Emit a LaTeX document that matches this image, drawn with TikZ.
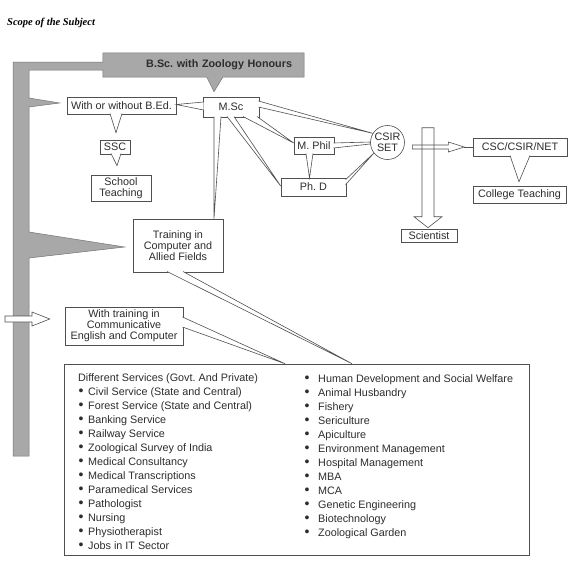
\documentclass[tikz,border=0pt]{standalone}
\usepackage{fontspec}
\setmainfont{Liberation Sans}
\newfontfamily\titlefont{Liberation Serif}
\usetikzlibrary{calc,backgrounds}
\definecolor{bargrey}{RGB}{168,168,168}
\definecolor{ink}{RGB}{45,45,45}
\definecolor{edge}{RGB}{80,80,80}
\newcommand{\bul}{\raisebox{-0.3pt}{\scalebox{1.3}{•}}}
\begin{document}
\frenchspacing
\begin{tikzpicture}[x=1pt,y=-1pt,
  every node/.style={font=\fontsize{10.8}{11}\selectfont\frenchspacing, text=ink},
  box/.style={draw=edge, line width=0.6pt, fill=white, inner sep=0pt, align=center},
  wedge/.style={draw=edge, line width=0.6pt, fill=white, line join=miter},
  hollow/.style={draw=edge, line width=0.6pt, fill=white, line join=miter},
  bar/.style={fill=bargrey, draw=edge!80, line width=0.5pt, line join=miter},
  item/.style={anchor=base west, inner sep=0pt}]
\useasboundingbox (0,0) rectangle (579,579);

% title
\node[anchor=west, inner sep=0pt, text=black,
  font={\titlefont\bfseries\itshape\fontsize{10.5}{12}\selectfont}] (title) at (7,23) {Scope of the Subject};

% heading box (grey)
\node[inner sep=0pt, minimum width=201, minimum height=24, text width=177, align=right,
  font={\bfseries\fontsize{10.8}{12}\selectfont\frenchspacing}] (bsc) at (203.5,65) {B.Sc. with Zoology Honours};

% boxes
\node[box, minimum width=109, minimum height=17] (bed) at (121.5,105.5) {With or without B.Ed.};
\node[box, minimum width=56, minimum height=20] (msc) at (231,107) {M.Sc};
\node[box, minimum width=30, minimum height=14] (ssc) at (115,147) {SSC};
\node[box, minimum width=60, minimum height=26] (school) at (121,188) {School\\Teaching};
\node[box, minimum width=40, minimum height=17] (mphil) at (314,145.5) {M. Phil};
\node[box, minimum width=65, minimum height=18] (phd) at (313.5,187) {Ph. D};
\node[box, circle, minimum size=34] (csir) at (387.5,142.5) {CSIR\\SET};
\node[box, minimum width=56, minimum height=13] (sci) at (429,236) {Scientist};
\node[box, minimum width=94, minimum height=18] (csc) at (520,147) {CSC/CSIR/NET};
\node[box, minimum width=93, minimum height=17] (college) at (519.5,194.5) {College Teaching};
\node[box, minimum width=90, minimum height=53] (training) at (178,245.5) {Training in\\Computer and\\Allied Fields};
\node[box, minimum width=118, minimum height=38] (wtr) at (124,326) {With training in\\Communicative\\English and Computer};
\node[box, minimum width=465, minimum height=191] (list) at (296.5,459.5) {};

% list contents
\node[item] (l0) at (78,381) {Different Services (Govt. And Private)};
\foreach \t [count=\i] in {Civil Service (State and Central),Forest Service (State and Central),Banking Service,Railway Service,Zoological Survey of India,Medical Consultancy,Medical Transcriptions,Paramedical Services,Pathologist,Nursing,Physiotherapist,Jobs in IT Sector}
  \node[item] (l\i) at (78.5,{381+14*\i}) {\makebox[9.5pt][l]{\bul}\t};
\foreach \t [count=\i] in {Human Development and Social Welfare,Animal Husbandry,Fishery,Sericulture,Apiculture,Environment Management,Hospital Management,MBA,MCA,Genetic Engineering,Biotechnology,Zoological Garden}
  \node[item] (r\i) at (304.5,{368+14*\i}) {\makebox[13.5pt][l]{\bul}\t};

% callout wedges
\draw[wedge] ($(msc.west)+(0.8,-5)$) -- ($(bed.east)+(0,-1)$) -- ($(msc.west)+(0.8,3)$);
\draw[wedge] ($(msc.east)+(-0.8,-6)$) -- (csir.148) -- ($(msc.east)+(-0.8,0)$);
\draw[wedge] ($(msc.south)+(12,-0.8)$) -- ($(mphil.west)+(0,-2.5)$) -- ($(msc.south)+(26,-0.8)$);
\draw[wedge] ($(msc.south)+(-4,-0.8)$) -- ($(phd.west)+(0,-1)$) -- ($(msc.south)+(3,-0.8)$);
\draw[wedge] ($(msc.south)+(-17,-0.8)$) -- ($(training.north)+(36,0)$) -- ($(msc.south)+(-10,-0.8)$);
\draw[wedge] ($(mphil.east)+(-0.8,-2.5)$) -- ($(csir.west)+(0,-0.5)$) -- ($(csir.west)+(0,1.5)$) -- ($(mphil.east)+(-0.8,2.5)$);
\draw[wedge] ($(phd.north east)+(-0.8,2)$) -- (csir.218) -- ($(phd.north east)+(-0.8,7)$);
\draw[wedge] ($(mphil.south)+(-8,-0.8)$) -- ($(phd.north)+(-4,0.3)$) -- ($(mphil.south)+(-1,-0.8)$);
\draw[wedge] ($(bed.south)+(-11.5,-0.8)$) -- ($(ssc.north)+(1,-7)$) -- ($(bed.south)+(0.5,-0.8)$);
\draw[wedge] ($(ssc.south)+(-4,-0.8)$) -- ($(school.north)+(-4,-9)$) -- ($(ssc.south)+(6,-0.8)$);
\draw[wedge] ($(training.south)+(-11,-0.8)$) -- ($(list.north)+(55.5,0)$) -- ($(training.south)+(5,-0.8)$);
\draw[wedge] ($(wtr.east)+(-0.8,-9)$) -- ($(list.north)+(-11.5,0)$) -- ($(wtr.east)+(-0.8,1)$);
\draw[wedge] ($(csc.south)+(-10,-0.8)$) -- ($(college.north)+(-0.5,-4)$) -- ($(csc.south)+(10,-0.8)$);

% hollow arrows
\coordinate (v0) at ($(sci.north)+(-1,-101.5)$);
\draw[hollow] (v0) ++(-6,0) -- ++(12,0) -- ++(0,89) -- ++(8,0) -- ++(-14,11) -- ++(-14,-11) -- ++(8,0) -- cycle;
\coordinate (h0) at ($(csir.east)+(7.5,4.5)$);
\draw[hollow, fill=none] (h0) ++(0,-2) -- ++(36,0) -- ++(0,-3) -- ++(16,5) -- ++(-16,5) -- ++(0,-3) -- ++(-36,0) -- cycle;
\draw[draw=edge, line width=0.6pt] ($(h0)+(52,0)$) -- (csc.west);

% grey bar with spikes
\begin{pgfonlayer}{background}
\draw[bar] (13,62) -- (bsc.west |- 13,62) -- (bsc.north west) -- (bsc.north east) -- (bsc.south east)
  -- ($(bsc.south west)+(120,0)$) -- ($(msc.north)+(-17,-5)$) -- ($(bsc.south west)+(104,0)$)
  -- (bsc.south west) -- (bsc.west |- 29,70) -- (29,70) -- (29,98) -- ($(bed.west)+(-7,-2.5)$) -- (29,107)
  -- (29,232) -- ($(training.west)+(-8,1.5)$) -- (29,258) -- (29,456) -- (13,456) -- cycle;
\end{pgfonlayer}

% arrow across the bar
\draw[hollow] (5,316) -- (32,316) -- (32,312) -- ($(wtr.west)+(-15,-7)$) -- (32,326) -- (32,322) -- (5,322) -- cycle;
\end{tikzpicture}
\end{document}
